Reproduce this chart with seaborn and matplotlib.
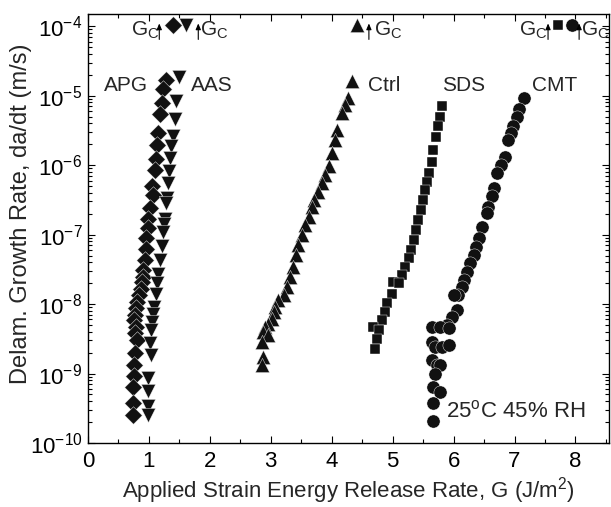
import numpy as np
import pandas as pd
import seaborn as sns
import matplotlib.pyplot as plt
from matplotlib.ticker import LogLocator, LogFormatterMathtext, MultipleLocator

# G (J/m^2) and log10(da/dt)
apg_g = [1.28, 1.23, 1.21, 1.18, 1.15, 1.14, 1.12, 1.10, 1.05, 1.06, 1.02, 0.99, 0.98, 0.96,
         0.95, 0.94, 0.91, 0.90, 0.88, 0.87, 0.84, 0.81, 0.79, 0.77, 0.76, 0.79, 0.77, 0.80,
         0.77, 0.76, 0.76, 0.74, 0.74, 0.74]
apg_log = [-4.77, -4.91, -5.11, -5.27, -5.54, -5.71, -5.91, -6.07, -6.30, -6.43, -6.61, -6.77,
           -6.91, -7.05, -7.20, -7.36, -7.51, -7.61, -7.68, -7.78, -7.87, -7.97, -8.06, -8.16,
           -8.23, -8.33, -8.42, -8.51, -8.71, -8.88, -9.03, -9.20, -9.43, -9.60]

aas_g = [1.50, 1.45, 1.42, 1.39, 1.37, 1.35, 1.33, 1.32, 1.29, 1.28, 1.26, 1.24, 1.23, 1.21,
         1.18, 1.15, 1.13, 1.12, 1.08, 1.06, 1.05, 1.03, 1.01, 1.03, 0.99, 0.99, 0.99, 0.98]
aas_log = [-4.73, -5.07, -5.34, -5.58, -5.73, -5.90, -6.09, -6.25, -6.48, -6.55, -6.77, -6.85,
           -6.96, -7.16, -7.37, -7.56, -7.69, -7.85, -8.04, -8.14, -8.26, -8.37, -8.56, -8.74,
           -9.07, -9.25, -9.46, -9.60]

ctrl_g = [4.33, 4.26, 4.22, 4.17, 4.09, 4.06, 4.00, 3.95, 3.89, 3.84, 3.78, 3.71, 3.67, 3.62,
          3.56, 3.51, 3.45, 3.42, 3.36, 3.32, 3.26, 3.21, 3.12, 3.07, 3.05, 3.02, 2.96, 2.91,
          2.88, 2.96, 2.85, 2.88, 2.85]
ctrl_log = [-4.79, -5.03, -5.13, -5.25, -5.50, -5.64, -5.83, -6.01, -6.14, -6.25, -6.38, -6.50,
            -6.60, -6.74, -6.86, -7.01, -7.15, -7.29, -7.46, -7.61, -7.75, -7.87, -7.94, -8.04,
            -8.11, -8.21, -8.28, -8.33, -8.40, -8.45, -8.55, -8.76, -8.88]

sds_g = [5.81, 5.77, 5.74, 5.71, 5.67, 5.64, 5.60, 5.57, 5.53, 5.50, 5.46, 5.42, 5.39, 5.35,
         5.30, 5.26, 5.21, 5.15, 5.01, 5.10, 4.99, 4.90, 4.88, 4.82, 4.68, 4.77, 4.74, 4.71]
sds_log = [-5.15, -5.30, -5.44, -5.59, -5.78, -5.95, -6.12, -6.24, -6.36, -6.50, -6.65, -6.79,
           -6.93, -7.08, -7.22, -7.34, -7.46, -7.58, -7.68, -7.70, -7.85, -7.99, -8.11, -8.23,
           -8.33, -8.38, -8.50, -8.64]

cmt_g = [7.15, 7.07, 7.04, 6.98, 6.94, 6.90, 6.85, 6.77, 6.72, 6.67, 6.63, 6.57, 6.54, 6.46,
         6.41, 6.37, 6.33, 6.27, 6.22, 6.17, 6.14, 6.08, 6.00, 6.06, 5.97, 5.89, 5.64, 5.78,
         5.92, 5.64, 5.70, 5.81, 5.93, 5.64, 5.73, 5.78, 5.70, 5.67, 5.78, 5.67, 5.67]
cmt_log = [-5.03, -5.19, -5.30, -5.44, -5.54, -5.64, -5.88, -6.00, -6.12, -6.33, -6.45, -6.60,
           -6.69, -6.89, -7.05, -7.18, -7.29, -7.41, -7.54, -7.66, -7.75, -7.87, -7.87, -8.09,
           -8.19, -8.30, -8.33, -8.33, -8.35, -8.55, -8.62, -8.62, -8.59, -8.81, -8.88, -8.88,
           -9.00, -9.20, -9.27, -9.43, -9.68]

# critical G markers at the top of the plot
gc_series = ["APG", "AAS", "Ctrl", "SDS", "CMT"]
gc_g = [1.40, 1.61, 4.41, 7.72, 7.95]
gc_rate = 1.05e-4

series = {
    "APG": (apg_g, apg_log),
    "AAS": (aas_g, aas_log),
    "Ctrl": (ctrl_g, ctrl_log),
    "SDS": (sds_g, sds_log),
    "CMT": (cmt_g, cmt_log),
}
markers = {"APG": "D", "AAS": "v", "Ctrl": "^", "SDS": "s", "CMT": "o"}
sizes = {"APG": 80, "AAS": 105, "Ctrl": 105, "SDS": 62, "CMT": 90}

rows = []
for name, (g, lg) in series.items():
    for gi, li in zip(g, lg):
        rows.append((name, gi, 10 ** li))
df = pd.DataFrame(rows, columns=["series", "G", "rate"])
gc_df = pd.DataFrame({"series": gc_series, "G": gc_g, "rate": gc_rate})

sns.set_style("ticks")
plt.rcParams["font.family"] = ["Liberation Sans", "DejaVu Sans"]
plt.rcParams["mathtext.default"] = "regular"

fig = plt.figure(figsize=(6.11, 5.07), dpi=100)
ax = fig.add_axes([0.144, 0.1262, 0.8527, 0.8462])

for name in series:
    for d in (df, gc_df):
        sub = d[d.series == name]
        sns.scatterplot(data=sub, x="G", y="rate", marker=markers[name], s=sizes[name],
                        color="#111111", edgecolor="white", linewidth=0.3, ax=ax, legend=False,
                        zorder=3)

ax.set_yscale("log")
ax.set_xlim(0, 8.55)
ax.set_ylim(1e-10, 1.5e-4)
ax.xaxis.set_major_locator(MultipleLocator(1))
ax.xaxis.set_minor_locator(MultipleLocator(0.5))
ax.yaxis.set_major_locator(LogLocator(base=10, numticks=20))
ax.yaxis.set_minor_locator(LogLocator(base=10, subs=np.arange(2, 10), numticks=20))
ax.yaxis.set_major_formatter(LogFormatterMathtext())

for sp in ax.spines.values():
    sp.set_linewidth(1.0)
    sp.set_color("black")
ax.tick_params(which="both", direction="in", top=True, right=True, labelsize=16,
               colors="black", width=0.8)
ax.tick_params(which="major", length=5)
ax.tick_params(which="minor", length=3)
ax.tick_params(axis="x", pad=6)
ax.tick_params(axis="y", pad=4)

ax.set_xlabel("Applied Strain Energy Release Rate, G (J/m$^2$)", fontsize=16)
ax.xaxis.set_label_coords(0.5, -0.074)
ax.set_ylabel("Delam. Growth Rate, da/dt (m/s)", fontsize=17)
ax.yaxis.set_label_coords(-0.108, 0.535)

# series labels
lab_y = 10 ** -4.86
for txt, xg in [("APG", 0.63), ("AAS", 2.04), ("Ctrl", 4.86), ("SDS", 6.17), ("CMT", 7.65)]:
    ax.text(xg, lab_y, txt, fontsize=15, ha="center", va="center")

# G_C arrows and labels
arrow_x = [1.17, 1.81, 4.61, 7.55, 8.06]
for xa in arrow_x:
    ax.annotate("", xy=(xa, 10 ** -3.92), xytext=(xa, 10 ** -4.23),
                arrowprops=dict(arrowstyle="-|>,head_length=0.35,head_width=0.15",
                                color="black", lw=0.8))
for xt in [0.94, 2.07, 4.93, 7.31, 8.33]:
    ax.text(xt, 10 ** -4.06, "G$_C$", fontsize=15, ha="center", va="center")

ax.text(5.88, 10 ** -9.55, "25$^o$C 45% RH", fontsize=16, ha="left", va="center")

fig.savefig("out.png", dpi=100)
